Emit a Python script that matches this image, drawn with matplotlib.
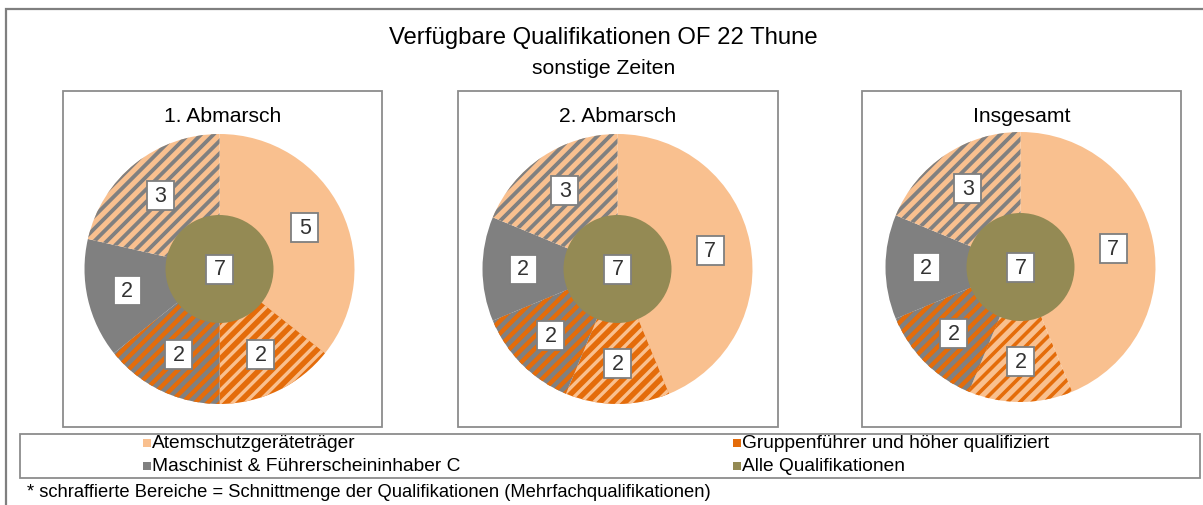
import matplotlib

matplotlib.use("Agg")

import matplotlib.pyplot as plt
import numpy as np
from matplotlib.collections import LineCollection
from matplotlib.patches import Rectangle
from matplotlib.transforms import ScaledTranslation

plt.rcParams["font.family"] = ["Liberation Sans", "DejaVu Sans"]

W, H = 1203, 506

LIGHT = "#F9C08F"
ORANGE = "#E46C0A"
GREY = "#808080"
OLIVE = "#948A54"

title = "Verfügbare Qualifikationen OF 22 Thune"
subtitle = "sonstige Zeiten"
panel_titles = ["1. Abmarsch", "2. Abmarsch", "Insgesamt"]

# outer ring, clockwise from 12 o'clock:
# Atemschutz, Atem+Gruppe, Gruppe+Masch, Maschinist, Masch+Atem
ring_values = [
    [5, 2, 2, 2, 3],
    [7, 2, 2, 2, 3],
    [7, 2, 2, 2, 3],
]
inner_values = [7, 7, 7]

# (face, stripe colour, stripe width px) per slice; None = solid
ring_styles = [
    [(LIGHT, None, 0), (ORANGE, LIGHT, 3.4), (GREY, ORANGE, 4.4), (GREY, None, 0), (LIGHT, GREY, 3.8)],
    [(LIGHT, None, 0), (ORANGE, LIGHT, 3.4), (GREY, ORANGE, 4.4), (GREY, None, 0), (LIGHT, GREY, 3.8)],
    [(LIGHT, None, 0), (LIGHT, ORANGE, 3.6), (GREY, ORANGE, 4.4), (GREY, None, 0), (LIGHT, GREY, 3.8)],
]

legend_labels = [
    "Atemschutzgeräteträger",
    "Gruppenführer und höher qualifiziert",
    "Maschinist & Führerscheininhaber C",
    "Alle Qualifikationen",
]
legend_colors = [LIGHT, ORANGE, GREY, OLIVE]
footnote = "* schraffierte Bereiche = Schnittmenge der Qualifikationen (Mehrfachqualifikationen)"


def fx(x):
    return x / W


def fy(y):
    return 1 - y / H


def box(fig, x0, y0, x1, y1, color, lw):
    fig.patches.append(Rectangle((fx(x0), fy(y1)), fx(x1 - x0), (y1 - y0) / H,
                                 transform=fig.transFigure, fill=False,
                                 edgecolor=color, linewidth=lw))


def label(ax, x, y, s):
    # fixed-size white box (27x29 px) with the number in it
    trans = fig.dpi_scale_trans + ScaledTranslation(x, y, ax.transData)
    ax.add_patch(Rectangle((-0.135, -0.145), 0.27, 0.29, transform=trans,
                           facecolor="white", edgecolor="#7F7F7F", linewidth=1.3,
                           zorder=5))
    ax.text(x, y, s, ha="center", va="center", fontsize=15.5, color="#333333", zorder=6)


fig = plt.figure(figsize=(W / 100, H / 100), dpi=100)

# outer chart border (runs off to the right and bottom)
box(fig, 6, 10, 1215, 520, "#7F7F7F", 1.6)

fig.text(fx(603), fy(38), title, ha="center", va="center", fontsize=17.2)
fig.text(fx(604), fy(68), subtitle, ha="center", va="center", fontsize=15.2)

panels = [(63, 382), (458, 778), (862, 1181)]
centers = [(219.5, 270), (617.5, 270), (1020.5, 268)]
R = 135.0
period = 12.5 / R  # horizontal stripe spacing in data units

for i in range(3):
    x0, x1 = panels[i]
    box(fig, x0, 92, x1, 428, "#8C8C8C", 1.3)
    fig.text(fx((x0 + x1) / 2), fy(116), panel_titles[i], ha="center", va="center", fontsize=15.2)

    cx, cy = centers[i]
    half = 150
    ax = fig.add_axes([fx(cx - half), fy(cy + half), 2 * half / W, 2 * half / H])

    vals = ring_values[i]
    wedges, _ = ax.pie(vals, radius=1.0, startangle=90, counterclock=False,
                       wedgeprops=dict(linewidth=0))
    for w, (face, stripe, sw) in zip(wedges, ring_styles[i]):
        w.set_facecolor(face)
        w.set_edgecolor(face)
        if stripe is not None:
            offs = np.arange(-2.2, 2.2, period)
            segs = [[(-1.2, -1.2 + c), (1.2, 1.2 + c)] for c in offs]
            lc = LineCollection(segs, colors=stripe, linewidths=sw * 0.72, zorder=2)
            ax.add_collection(lc)
            lc.set_clip_path(w)

    ax.pie([inner_values[i]], radius=0.4, colors=[OLIVE], wedgeprops=dict(linewidth=0, zorder=3))
    ax.set_xlim(-half / R, half / R)
    ax.set_ylim(-half / R, half / R)
    ax.axis("off")

    total = sum(vals)
    start = 90.0
    for v in vals:
        mid = np.deg2rad(start - 360.0 * v / total / 2)
        start -= 360.0 * v / total
        label(ax, 0.7 * np.cos(mid), 0.7 * np.sin(mid), str(v))
    label(ax, 0, 0, str(inner_values[i]))

# legend
box(fig, 20, 435, 1200, 479, "#8C8C8C", 1.3)
leg_pos = [(143, 444), (733, 444), (143, 467), (733, 467)]
for (lx, ly), lab, col in zip(leg_pos, legend_labels, legend_colors):
    fig.patches.append(Rectangle((fx(lx), fy(ly + 4)), 8 / W, 8 / H,
                                 transform=fig.transFigure, facecolor=col,
                                 edgecolor="none"))
    fig.text(fx(lx + 9), fy(ly), lab, ha="left", va="center", fontsize=13.8)

fig.text(fx(27), fy(493), footnote, ha="left", va="center", fontsize=13.2)

fig.savefig("out.png", dpi=100)
